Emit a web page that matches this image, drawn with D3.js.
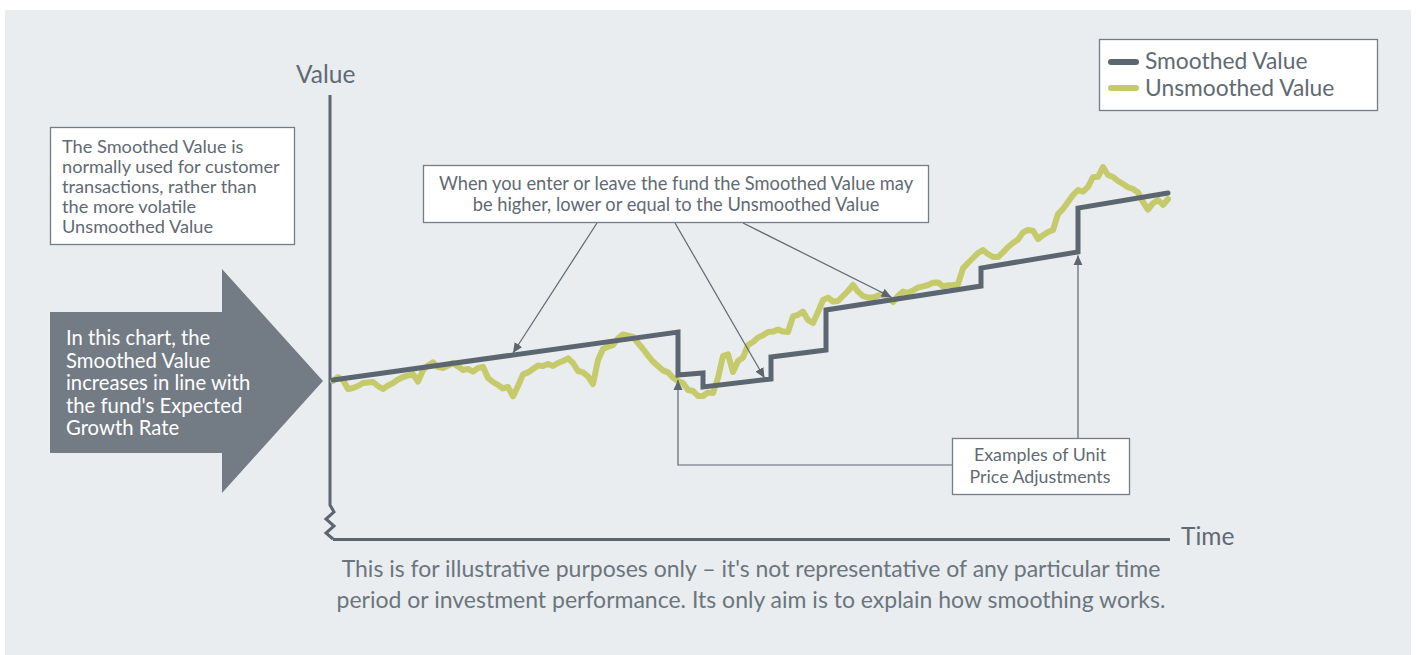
<!DOCTYPE html>
<html><head><meta charset="utf-8">
<script src="https://cdn.jsdelivr.net/npm/d3@7"></script>
<style>
html,body{margin:0;padding:0;background:#fff;}
svg{display:block;}
text{font-family:Lato,"Open Sans",sans-serif;}
</style></head>
<body>
<svg id="chart" width="1416" height="655"></svg>
<script>
// ---- data (time index, arbitrary value units) ----
const unsmoothedValues = [
 39.75,40.75,40,37.75,38,38.5,39.25,39.4,39.5,38.5,37.75,38.6,39.25,40.1,40.75,41.1,41.5,39.6,42.5,43.6,
 44.4,43.25,43,43.6,44.25,43.4,42.5,42.75,42.1,43,43.3,40.5,39.5,38.75,37.9,38.25,35.9,38.5,41.4,41.9,
 42.75,43.6,43.5,44,43.5,44.25,44.75,45.4,44.25,42.25,41.9,40.9,39,45,47.75,48.3,48.75,50.4,51.4,51.1,
 50.75,49.25,47.75,46.1,44.6,43.5,42.4,41.9,40.6,39.75,39.25,37.5,37.25,36,36,36.9,36.75,40.5,46,46.4,
 42,44.75,45.6,48.75,49.5,50.6,51.2,52,52.1,52.6,52.1,52,55.9,56.3,57.1,55,54.25,57,60,60.6,
 59.6,59.75,61,62.25,63.75,62.1,61,60.6,60.6,61.1,61.4,60.5,59.5,61,62.1,61.8,62.4,63.1,63.4,63.75,
 64.3,64.4,63.4,63.7,63.75,64,67.9,69.25,70.5,71.75,72.5,71.5,70.75,70.75,71.9,73.25,74.25,75.1,76.9,77.5,
 77.3,75.25,76.2,77,77.5,81.5,82.8,84.5,86.25,87.5,87.1,88.3,90.7,90.8,93.2,91.25,90.75,89.75,89,88.2,
 87.75,86.9,84.5,82.6,84.2,85,83.75,85.25
];
const smoothedTimes  = [0, 69, 69, 74, 74, 87.6, 87.6, 98.6, 98.6, 129.6, 129.6, 149, 149, 167];
const smoothedValues = [40, 52, 41.25, 41.75, 38.25, 40.25, 45.75, 47.5, 57.5, 63.5, 68, 72, 83, 86.75];

const seriesNames = ["Smoothed Value", "Unsmoothed Value"];
const axisLabels = ["Value", "Time"];
const noteLeft = ["The Smoothed Value is","normally used for customer","transactions, rather than","the more volatile","Unsmoothed Value"];
const noteArrow = ["In this chart, the","Smoothed Value","increases in line with","the fund's Expected","Growth Rate"];
const noteMiddle = ["When you enter or leave the fund the Smoothed Value may","be higher, lower or equal to the Unsmoothed Value"];
const noteAdjust = ["Examples of Unit","Price Adjustments"];
const footnote = ["This is for illustrative purposes only \u2013 it's not representative of any particular time","period or investment performance. Its only aim is to explain how smoothing works."];
// annotation targets (time index, value)
const middleTargets = [[36, 46.75], [86.3, 40.5], [111.7, 60.7]];
const adjustTargets = [[149, 71.2], [69, 40]];

// ---- styles ----
const DARK = "#5c6670", YEL = "#c5ca6a", TXT = "#5f6a73", PANEL = "#e9edf0", BOX = "#737d86";

const svg = d3.select("#chart");
const x = d3.scaleLinear().domain([0, 167]).range([333, 1168]);
const y = d3.scaleLinear().domain([0, 110]).range([540, 100]);

svg.append("rect").attr("x",5).attr("y",10).attr("width",1406).attr("height",645).attr("fill",PANEL);

const defs = svg.append("defs");
defs.append("marker").attr("id","ah").attr("viewBox","0 0 10 10").attr("refX",10).attr("refY",5)
  .attr("markerWidth",10).attr("markerHeight",10).attr("markerUnits","userSpaceOnUse").attr("orient","auto")
  .append("path").attr("d","M0,0.5 L10,5 L0,9.5 Z").attr("fill",DARK);

// axes
const axisG = svg.append("g").attr("stroke",DARK).attr("stroke-width",3).attr("fill","none");
const ax0 = x(0) - 3, ay0 = y(0);
axisG.append("path").attr("d", d3.line()([[ax0, 95],[ax0, ay0-35],[ax0+4, ay0-28],[ax0-4, ay0-21],[ax0+4, ay0-14],[ax0-4, ay0-7],[ax0+3, ay0-1]]))
  .attr("stroke-linejoin","miter");
axisG.append("line").attr("x1",ax0+3).attr("x2",x(167)+2).attr("y1",ay0-0.5).attr("y2",ay0-0.5).attr("stroke-width",3);
svg.append("text").attr("x",296).attr("y",83).attr("font-size",24.5).attr("fill",TXT).text(axisLabels[0]);
svg.append("text").attr("x",1181).attr("y",545).attr("font-size",24.5).attr("fill",TXT).text(axisLabels[1]);

// series
const line = d3.line().x(d=>x(d[0])).y(d=>y(d[1]));
svg.append("path").datum(unsmoothedValues.map((v,i)=>[i,v])).attr("d",line)
  .attr("fill","none").attr("stroke",YEL).attr("stroke-width",6).attr("stroke-linejoin","round").attr("stroke-linecap","round");
svg.append("path").datum(smoothedTimes.map((t,i)=>[t,smoothedValues[i]])).attr("d",line)
  .attr("fill","none").attr("stroke",DARK).attr("stroke-width",5).attr("stroke-linejoin","miter").attr("stroke-linecap","round");

// annotation leader lines
const ann = svg.append("g").attr("stroke",DARK).attr("stroke-width",1.2).attr("fill","none");
const midStarts = [[597,223],[675,223],[743,223]];
middleTargets.forEach((t,i)=>{
  ann.append("line").attr("x1",midStarts[i][0]).attr("y1",midStarts[i][1])
    .attr("x2",x(t[0])).attr("y2",y(t[1])).attr("marker-end","url(#ah)");
});
ann.append("line").attr("x1",x(adjustTargets[0][0])).attr("y1",438).attr("x2",x(adjustTargets[0][0])).attr("y2",y(adjustTargets[0][1])).attr("marker-end","url(#ah)");
ann.append("path").attr("d",`M953,465 H${x(adjustTargets[1][0])} V${y(adjustTargets[1][1])}`).attr("marker-end","url(#ah)");

// boxes
function box(x0,y0,w,h){
  svg.append("rect").attr("x",x0).attr("y",y0).attr("width",w).attr("height",h)
    .attr("fill","#fff").attr("stroke",BOX).attr("stroke-width",1.3);
}
box(50.5,127.5,244,117);
noteLeft.forEach((s,i)=>svg.append("text").attr("x",62).attr("y",153+i*20).attr("font-size",18.2).attr("fill",TXT).text(s));

box(423.5,165.5,505,57);
noteMiddle.forEach((s,i)=>svg.append("text").attr("x",676).attr("y",189.5+i*21.5).attr("text-anchor","middle").attr("font-size",18.3).attr("fill",TXT).text(s));

box(952.5,438.5,177,56);
noteAdjust.forEach((s,i)=>svg.append("text").attr("x",1040).attr("y",461+i*22).attr("text-anchor","middle").attr("font-size",17.8).attr("fill",TXT).text(s));

// big arrow
svg.append("path").attr("d","M50,312 H222 V269 L323,381 L222,493 V453 H50 Z").attr("fill","#737b84");
noteArrow.forEach((s,i)=>svg.append("text").attr("x",66).attr("y",345+i*22.5).attr("font-size",20.3).attr("fill","#fff").text(s));

// legend
box(1099.5,39.5,278,71);
const lg = svg.append("g");
[DARK,YEL].forEach((c,i)=>{
  lg.append("line").attr("x1",1111).attr("x2",1136).attr("y1",62+i*26).attr("y2",62+i*26)
    .attr("stroke",c).attr("stroke-width",6).attr("stroke-linecap","round");
  lg.append("text").attr("x",1145).attr("y",69+i*26.5).attr("font-size",22.8).attr("fill",TXT).text(seriesNames[i]);
});

// footnote
footnote.forEach((s,i)=>svg.append("text").attr("x",751).attr("y",577+i*31).attr("text-anchor","middle").attr("font-size",23).attr("fill","#6b757d").text(s));
</script>
</body></html>
